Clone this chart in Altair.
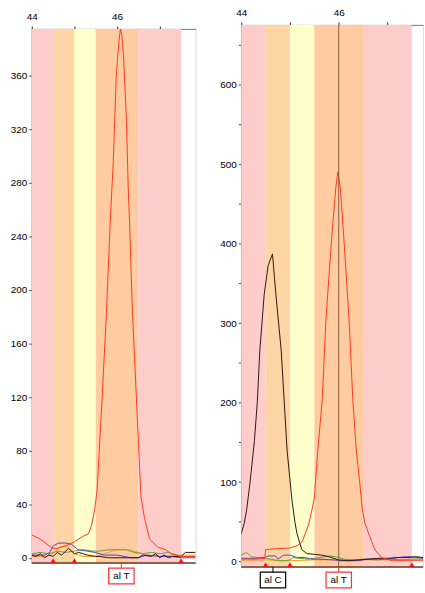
import altair as alt
import pandas as pd

# ---------------- shared ----------------
band_start = [44.0, 44.5, 45.0, 45.5, 46.5]
band_end = [44.5, 45.0, 45.5, 46.5, 47.5]
band_color = ["#FFCCCC", "#FFD5A5", "#FFFFCC", "#FFCBA0", "#FFCCCC"]
marker_pos = [44.5, 45.0, 47.5]
x_ticks = [44, 45, 46, 47]
x_labelled = [44, 46]

trace_colors = {"orange": "#FF9A30", "green": "#5FA830", "blue": "#5A3CD0",
                "black": "#2A1A10", "red": "#FF3A1F"}

# ---------------- left panel ----------------
L_red_x = [44.0, 44.2, 44.4, 44.5, 44.6, 44.8, 45.0, 45.2, 45.33, 45.4, 45.47, 45.53, 45.64, 45.75,
           45.84, 45.91, 45.98, 46.04, 46.08, 46.11, 46.15, 46.22, 46.26, 46.29, 46.36, 46.46, 46.56,
           46.64, 46.76, 46.95, 47.14, 47.26, 47.49, 47.84]
L_red_y = [17, 14, 9, 7, 7, 9, 12, 16, 18, 24, 35, 50, 114, 183,
           252, 296, 360, 385, 396, 390, 375, 326, 277, 252, 183, 114, 45,
           30, 14, 8, 6, 3, 1, 1]
L_blue_x = [44.0, 44.3, 44.42, 44.51, 44.63, 44.8, 44.93, 45.09, 45.3, 45.48, 45.7, 46.0, 46.33, 46.49,
            46.7, 47.0, 47.26, 47.5, 47.84]
L_blue_y = [2, 2, 4, 9, 11, 11, 10, 6, 5, 4, 2, 2, 0, 0, 2, 1, 1, 0, 0]
L_green_x = [44.0, 44.2, 44.4, 44.6, 44.8, 45.0, 45.2, 45.4, 45.6, 45.8, 46.0, 46.2, 46.4, 46.6, 46.8,
             47.0, 47.2, 47.4, 47.5, 47.84]
L_green_y = [3, 4, 3, 5, 4, 5, 6, 5, 5, 6, 6, 6, 4, 3, 4, 3, 4, 2, 1, 1]
L_black_x = [44.0, 44.1, 44.2, 44.3, 44.4, 44.5, 44.6, 44.7, 44.86, 45.0, 45.1, 45.3, 45.5, 45.6, 45.8,
             46.5, 46.6, 46.8, 46.9, 47.0, 47.1, 47.2, 47.3, 47.5, 47.6, 47.84]
L_black_y = [2, 1, 3, 0, 2, 1, 4, 2, 7, 3, 4, 2, 1, 1, 0, 0, 2, 1, 3, 0, 2, 0, 1, 1, 4, 4]
L_orange_x = [44.0, 44.3, 44.5, 44.65, 44.8, 45.0, 45.2, 45.5, 45.8, 46.0, 46.3, 46.5, 46.7, 47.0,
              47.3, 47.5, 47.84]
L_orange_y = [1, 1, 3, 8, 9, 3, 1, 1, 4, 6, 6, 4, 2, 1, 2, 2, 2]
L_label_text = ["al T"]
L_label_x = [46.1]
L_label_color = ["#FF3333"]

# ---------------- right panel ----------------
R_red_x = [44.0, 44.3, 44.48, 44.5, 44.7, 45.0, 45.15, 45.25, 45.38, 45.45, 45.5, 45.57, 45.66, 45.74,
           45.86, 45.94, 45.98, 46.03, 46.1, 46.21, 46.29, 46.36, 46.43, 46.48, 46.53, 46.61, 46.74,
           46.88, 47.1, 47.4, 47.73]
R_red_y = [3, 3, 4, 15, 16, 17, 20, 25, 46, 65, 80, 140, 202, 307,
           411, 470, 490, 472, 411, 307, 202, 140, 100, 68, 50, 36, 15,
           5, 1, 1, 1]
R_black_x = [44.0, 44.06, 44.11, 44.18, 44.27, 44.33, 44.38, 44.47, 44.55, 44.64, 44.71, 44.82, 44.88,
             44.94, 45.04, 45.1, 45.14, 45.24, 45.35, 45.5, 45.65, 45.8, 46.0, 46.2, 46.4, 46.6, 46.8,
             47.0, 47.2, 47.4, 47.6, 47.73]
R_black_y = [35, 48, 65, 100, 152, 202, 265, 336, 372, 387, 336, 265, 202,
             140, 77, 50, 36, 15, 10, 9, 8, 6, 2, 1, 2, 3, 4,
             4, 5, 5, 6, 5]
R_green_x = [44.0, 44.04, 44.12, 44.2, 44.35, 44.5, 44.6, 44.75, 44.9, 45.0, 45.06, 45.2, 45.35, 45.5,
             45.7, 45.8, 45.95, 46.1, 46.3, 46.5, 46.8, 47.0, 47.3, 47.5, 47.73]
R_green_y = [7, 10, 11, 6, 5, 4, 3, 1, 1, 2, 5, 4, 3, 4, 6, 7, 6, 3, 2, 3, 2, 3, 2, 3, 3]
R_blue_x = [44.0, 44.3, 44.48, 44.55, 44.7, 44.75, 44.87, 45.0, 45.15, 45.3, 45.45, 45.6, 45.9, 46.0,
            46.2, 46.4, 46.6, 46.9, 47.1, 47.35, 47.5, 47.73]
R_blue_y = [4, 4, 5, 7, 7, 3, 8, 8, 5, 5, 3, 3, 2, 1, 1, 1, 3, 3, 4, 6, 6, 4]
R_orange_x = [44.0, 44.5, 45.0, 45.5, 46.0, 46.5, 47.0, 47.5, 47.73]
R_orange_y = [1, 2, 1, 2, 2, 2, 2, 3, 3]
R_cursor = [46.0]
R_label_text = ["al C", "al T"]
R_label_x = [44.65, 46.0]
R_label_color = ["#000000", "#FF3333"]

AXIS_BROWN = "#6B3A2A"
FONT = "Liberation Sans"


def panel(traces, xmax, ydom, yticks, ylab_every, W, H, lab_text, lab_x, lab_col, cursor=None):
    xs = alt.Scale(domain=[44, xmax], nice=False, zero=False)
    ys = alt.Scale(domain=ydom, nice=False, zero=False)
    xaxis = alt.Axis(orient="top", values=x_ticks, title=None, grid=False,
                     labelExpr="indexof(%s, datum.value) >= 0 ? datum.label : ''" % str(x_labelled),
                     labelFlush=False, labelOverlap=False, tickSize=3, labelPadding=4,
                     domainColor="#8a7a70", tickColor="#3a2a20", labelFont=FONT,
                     labelFontSize=10, labelColor="#000000")
    yaxis = alt.Axis(values=yticks, title=None, grid=False,
                     labelExpr="datum.value %% %d == 0 ? datum.label : ''" % ylab_every,
                     labelFlush=False, labelOverlap=False, tickSize=3, labelPadding=2,
                     domainColor=AXIS_BROWN, tickColor=AXIS_BROWN, labelFont=FONT,
                     labelFontSize=10, labelColor="#000000")

    bands = pd.DataFrame({"s": band_start, "e": band_end, "c": band_color})
    base_band = alt.Chart(bands).mark_rect().encode(
        x=alt.X("s:Q", scale=xs, axis=xaxis),
        x2="e:Q",
        y=alt.value(0), y2=alt.value(H),
        color=alt.Color("c:N", scale=None),
    )
    # invisible layer carrying the y axis
    yaxis_layer = alt.Chart(pd.DataFrame({"v": [ydom[0], ydom[1]]})).mark_point(opacity=0).encode(
        x=alt.value(0), y=alt.Y("v:Q", scale=ys, axis=yaxis))

    layers = [base_band, yaxis_layer]
    for name, (tx, ty) in traces:
        df = pd.DataFrame({"x": tx, "v": ty})
        layers.append(alt.Chart(df).mark_line(color=trace_colors[name], strokeWidth=1, clip=True,
                                              interpolate="linear").encode(
            x=alt.X("x:Q", scale=xs), y=alt.Y("v:Q", scale=ys), order="x:Q"))

    if cursor:
        layers.append(alt.Chart(pd.DataFrame({"x": cursor})).mark_rule(color="#8B5A3C", strokeWidth=1).encode(
            x=alt.X("x:Q", scale=xs), y=alt.value(0), y2=alt.value(H)))

    # bottom line
    layers.append(alt.Chart(pd.DataFrame({"a": [0]})).mark_rule(color=AXIS_BROWN, strokeWidth=1.5).encode(
        x=alt.value(0), x2=alt.value(W), y=alt.value(H)))

    # red triangles
    layers.append(alt.Chart(pd.DataFrame({"x": marker_pos})).mark_point(
        shape="triangle-up", filled=True, color="#FF1010", size=30, opacity=1).encode(
        x=alt.X("x:Q", scale=xs), y=alt.value(H - 2.5)))

    labels = pd.DataFrame({"x": lab_x, "t": lab_text, "c": lab_col})
    layers.append(alt.Chart(labels).mark_rule(strokeWidth=1).encode(
        x=alt.X("x:Q", scale=xs), y=alt.value(H), y2=alt.value(H + 6),
        color=alt.Color("c:N", scale=None)))
    layers.append(alt.Chart(labels).mark_point(
        shape="M-1.6,-1H1.6V1H-1.6Z", size=256, filled=False, fill="#FFFFFF", fillOpacity=1,
        strokeWidth=1.2, opacity=1).encode(
        x=alt.X("x:Q", scale=xs), y=alt.value(H + 13), stroke=alt.Stroke("c:N", scale=None)))
    layers.append(alt.Chart(labels).mark_text(font=FONT, fontSize=10, color="#000000",
                                             baseline="middle", align="center").encode(
        x=alt.X("x:Q", scale=xs), y=alt.value(H + 13), text="t:N"))

    return alt.layer(*layers).properties(width=W, height=H)


left = panel([("orange", (L_orange_x, L_orange_y)), ("green", (L_green_x, L_green_y)),
              ("blue", (L_blue_x, L_blue_y)), ("black", (L_black_x, L_black_y)),
              ("red", (L_red_x, L_red_y))],
             47.84, [-4, 395], list(range(0, 400, 20)), 40, 165, 538,
             L_label_text, L_label_x, L_label_color)
right = panel([("orange", (R_orange_x, R_orange_y)), ("green", (R_green_x, R_green_y)),
               ("blue", (R_blue_x, R_blue_y)), ("black", (R_black_x, R_black_y)),
               ("red", (R_red_x, R_red_y))],
              47.73, [-7, 675], list(range(0, 700, 50)), 100, 183, 546,
              R_label_text, R_label_x, R_label_color, cursor=R_cursor)

chart = alt.hconcat(left, right, spacing=46, bounds="flush", center=True).properties(
    padding={"left": 9, "top": 5, "right": 0, "bottom": 0}
).configure_view(stroke=None).configure(background="#FFFFFF")

chart.save("out.html", embed_options={"renderer": "svg", "actions": False})
